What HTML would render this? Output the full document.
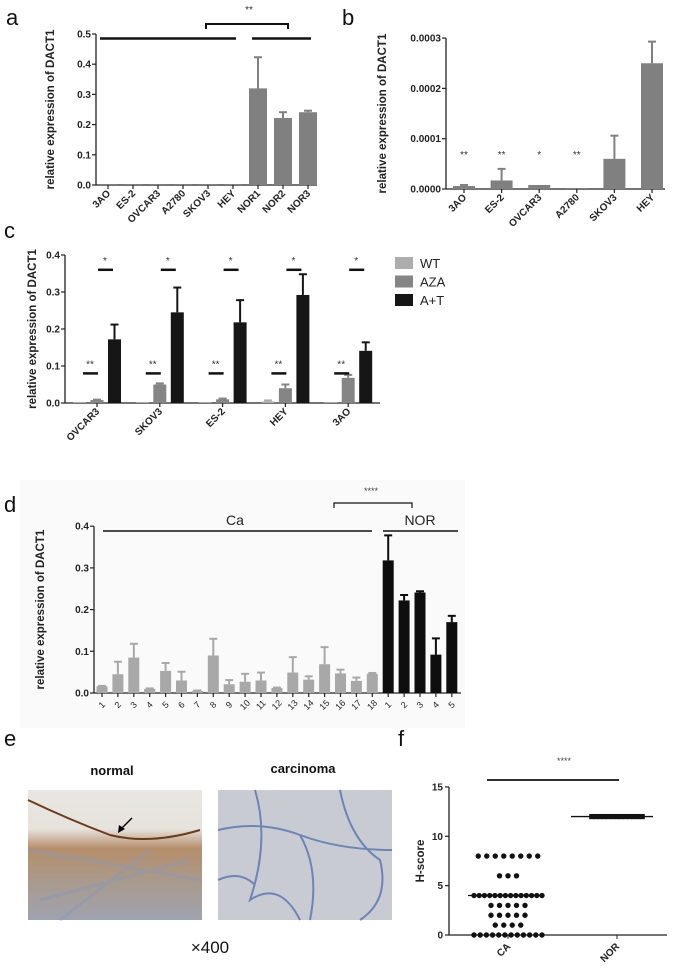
<!DOCTYPE html>
<html><head><meta charset="utf-8"><style>
html,body{margin:0;padding:0;background:#fff}
svg{display:block;font-family:"Liberation Sans",Arial,sans-serif}
</style></head><body>
<svg id="fig" width="675" height="970" viewBox="0 0 675 970">
<rect x="20" y="480" width="445" height="248" fill="#fafafa"/>
<defs>
<linearGradient id="ng" x1="0" y1="0" x2="0" y2="1">
<stop offset="0" stop-color="#e9e7e3"/><stop offset="0.3" stop-color="#e6e2dc"/><stop offset="0.45" stop-color="#b58e6a"/><stop offset="0.7" stop-color="#a99a8c"/><stop offset="1" stop-color="#9fa3b0"/>
</linearGradient>
</defs>
</svg>
<script>
const aCats=["3AO","ES-2","OVCAR3","A2780","SKOV3","HEY","NOR1","NOR2","NOR3"];
const aVals=[0,0.001,0,0,0,0,0.32,0.222,0.241];
const aErr=[0,0,0,0,0,0,0.423,0.241,0.246];
const aTicks=[0,0.1,0.2,0.3,0.4,0.5];
const bCats=["3AO","ES-2","OVCAR3","A2780","SKOV3","HEY"];
const bVals=[0.000006,0.000017,0.000008,0.000002,0.00006,0.00025];
const bErr=[0.000008,0.00004,0.000008,0.000002,0.000106,0.000293];
const bStars=["**","**","*","**","",""];
const bTicks=[0,0.0001,0.0002,0.0003];
const cCats=["OVCAR3","SKOV3","ES-2","HEY","3AO"];
const cSeries=["WT","AZA","A+T"];
const cWT=[0.001,0.002,0,0.004,0];
const cWTErr=[0.001,0.002,0,0.007,0];
const cAZA=[0.008,0.05,0.01,0.04,0.068];
const cAZAErr=[0.009,0.053,0.012,0.05,0.076];
const cAT=[0.172,0.245,0.218,0.292,0.141];
const cATErr=[0.212,0.312,0.278,0.348,0.164];
const cTicks=[0,0.1,0.2,0.3,0.4];
const dCats=["1","2","3","4","5","6","7","8","9","10","11","12","13","14","15","16","17","18","1","2","3","4","5"];
const dVals=[0.016,0.045,0.085,0.01,0.053,0.03,0.005,0.09,0.021,0.027,0.03,0.012,0.049,0.032,0.069,0.047,0.029,0.046,0.318,0.222,0.241,0.092,0.17];
const dErr=[0.017,0.075,0.118,0.011,0.072,0.051,0.006,0.13,0.031,0.046,0.049,0.013,0.086,0.04,0.11,0.056,0.037,0.048,0.378,0.235,0.244,0.131,0.185];
const dTicks=[0,0.1,0.2,0.3,0.4];
const fCA=[8,8,8,8,8,8,8,8,6,6,6,4,4,4,4,4,4,4,4,4,4,4,4,4,4,3,3,3,3,3,2,2,2,2,2,1,1,1,1,0,0,0,0,0,0,0,0,0,0,0,0];
const fNOR=[12,12,12,12,12,12,12,12,12,12,12,12,12];
const fMed=[4,12];
const fTicks=[0,5,10,15];

const svg=document.getElementById('fig');
const NS='http://www.w3.org/2000/svg';
function el(tag,attrs,parent){const e=document.createElementNS(NS,tag);for(const k in attrs)e.setAttribute(k,attrs[k]);(parent||svg).appendChild(e);return e;}
function txt(s,attrs,parent){const e=el('text',attrs,parent);e.textContent=s;return e;}
function fmt(v,d){return v.toFixed(d);}

function axes(g,x0,x1,yScale,ticks,dec,ylab,ylx){
  const y0=yScale(0),yt=yScale(ticks[ticks.length-1]);
  let e=el('line',{x1:x0,y1:y0,x2:x0,y2:yt,stroke:'#222','stroke-width':1.3},g);
  
  e=el('line',{x1:x0,y1:y0,x2:x1,y2:y0,stroke:'#222','stroke-width':1.3},g);
  
  ticks.forEach(t=>{const y=yScale(t);
    el('line',{x1:x0-4,y1:y,x2:x0,y2:y,stroke:'#222','stroke-width':1.2},g);
    e=txt(fmt(t,dec),{x:x0-5,y:y+3.5,'text-anchor':'end','font-size':10,'font-weight':'bold',fill:'#222'},g);
    });
  const ym=(y0+yt)/2;
  e=txt(ylab,{x:ylx,y:ym,transform:`rotate(-90 ${ylx} ${ym})`,'text-anchor':'middle','font-size':11.5,'font-weight':'bold',fill:'#222'},g);
  
}
function xlabels(g,cats,xf,y0,fs){
  cats.forEach((c,i)=>{const x=xf(i);
    el('line',{x1:x,y1:y0,x2:x,y2:y0+4,stroke:'#222','stroke-width':1.2},g);
    const e=txt(c,{x:x+3,y:y0+9,transform:`rotate(-45 ${x+3} ${y0+9})`,'text-anchor':'end','font-size':fs,'font-weight':'bold',fill:'#222'},g);
    });
}
function bar(g,x,w,y0,yv,ye,col,name){
  if(ye!==null&&yv-ye>0.3){
    el('line',{x1:x,y1:yv,x2:x,y2:ye,stroke:col,'stroke-width':2},g);
    el('line',{x1:x-4,y1:ye,x2:x+4,y2:ye,stroke:col,'stroke-width':2},g);}
  const e=el('rect',{x:x-w/2,y:Math.min(yv,y0-1),width:w,height:Math.max(y0-yv,1),fill:col},g);
  
}
function label(s,x,y){const e=txt(s,{x:x,y:y,'font-size':22,fill:'#111'});}

// Panel a
(function(){
  const g=el('g',{});
  label('a',6,25);
  const ys=v=>185-v*302, xs=i=>108+i*25;
  axes(g,96,317,ys,aTicks,1,'relative expression of DACT1',54);
  aCats.forEach((c,i)=>bar(g,xs(i),18,ys(0),ys(aVals[i]),ys(aErr[i]),'#808080','bar-'+c.toLowerCase()));
  xlabels(g,aCats,xs,185,10);
  el('line',{x1:100,y1:ys(0.485),x2:236,y2:ys(0.485),stroke:'#111','stroke-width':2.5},g);
  el('line',{x1:252,y1:ys(0.485),x2:311,y2:ys(0.485),stroke:'#111','stroke-width':2.5},g);
  el('polyline',{points:'206,29 206,24 288,24 288,29',fill:'none',stroke:'#111','stroke-width':2},g);
  txt('**',{x:249,y:13,'text-anchor':'middle','font-size':10,fill:'#333'},g);
})();
// Panel b
(function(){
  const g=el('g',{});
  label('b',342,25);
  const ys=v=>189-v*503000, xs=i=>464+i*37.6;
  axes(g,446,665,ys,bTicks,4,'relative expression of DACT1',386);
  bCats.forEach((c,i)=>{bar(g,xs(i),22,ys(0),ys(bVals[i]),ys(bErr[i]),'#808080','bar-'+c.toLowerCase());
    if(bStars[i])txt(bStars[i],{x:xs(i),y:158,'text-anchor':'middle','font-size':10,fill:'#333'},g);});
  xlabels(g,bCats,xs,189,10);
})();
// Panel c
(function(){
  const g=el('g',{});
  label('c',4,238);
  const ys=v=>403-v*370, xs=i=>97+i*62.8;
  axes(g,65,380,ys,cTicks,1,'relative expression of DACT1',36);
  const cols=['#adadad','#858585','#161616'];
  const sers=[[cWT,cWTErr],[cAZA,cAZAErr],[cAT,cATErr]];
  cCats.forEach((c,i)=>{
    sers.forEach((s,j)=>bar(g,xs(i)+(j-1)*17.5,13,ys(0),ys(s[0][i]),ys(s[1][i]),cols[j],'bar-'+c.toLowerCase()+'-'+cSeries[j].toLowerCase()));
    el('line',{x1:xs(i)-14,y1:ys(0.08),x2:xs(i)+1,y2:ys(0.08),stroke:'#111','stroke-width':2.5},g);
    txt('**',{x:xs(i)-7,y:ys(0.08)-6,'text-anchor':'middle','font-size':10,fill:'#333'},g);
    el('line',{x1:xs(i)+1,y1:ys(0.36),x2:xs(i)+16,y2:ys(0.36),stroke:'#111','stroke-width':2.5},g);
    txt('*',{x:xs(i)+8,y:ys(0.36)-6,'text-anchor':'middle','font-size':10,fill:'#333'},g);
  });
  xlabels(g,cCats,xs,403,10);
  cSeries.forEach((s,j)=>{const y=263+j*18.5;
    const r=el('rect',{x:395,y:y-6,width:18,height:12,fill:cols[j]},g);
    
    const t=txt(s,{x:420,y:y+5,'font-size':13,fill:'#222'},g);
    });
})();
// Panel d
(function(){
  const g=el('g',{});
  label('d',4,512);
  const ys=v=>693-v*417, xs=i=>102+i*15.9;
  axes(g,94,461,ys,dTicks,1,'relative expression of DACT1',44);
  dCats.forEach((c,i)=>bar(g,xs(i),11,ys(0),ys(dVals[i]),ys(dErr[i]),i<18?'#a8a8a8':'#0e0e0e','bar-'+(i<18?'ca-':'nor-')+c));
  dCats.forEach((c,i)=>{const x=xs(i);el('line',{x1:x,y1:693,x2:x,y2:697,stroke:'#222','stroke-width':1.2},g);
    const e=txt(c,{x:x+2,y:707,transform:`rotate(-45 ${x+2} 707)`,'text-anchor':'middle','font-size':9,fill:'#222'},g);
    });
  el('line',{x1:103,y1:531,x2:372,y2:531,stroke:'#111','stroke-width':1.5},g);
  el('line',{x1:383,y1:531,x2:458,y2:531,stroke:'#111','stroke-width':1.5},g);
  txt('Ca',{x:235,y:525,'text-anchor':'middle','font-size':14,fill:'#222'},g);
  txt('NOR',{x:420,y:525,'text-anchor':'middle','font-size':14,fill:'#222'},g);
  el('polyline',{points:'334,508 334,503 412,503 412,508',fill:'none',stroke:'#111','stroke-width':1.2},g);
  txt('****',{x:371,y:494,'text-anchor':'middle','font-size':9,fill:'#444'},g);
})();
// Panel e
(function(){
  const g=el('g',{});
  label('e',4,746);
  txt('normal',{x:112,y:775,'text-anchor':'middle','font-size':13,'font-weight':'bold',fill:'#111'},g);
  txt('carcinoma',{x:303,y:773,'text-anchor':'middle','font-size':13,'font-weight':'bold',fill:'#111'},g);
  let r=el('rect',{x:28,y:790,width:174,height:130,fill:'url(#ng)'},g);
  
  el('path',{d:'M28,800 Q70,820 110,835 Q150,845 200,830',fill:'none',stroke:'#6b3b1c','stroke-width':2},g);
  el('path',{d:'M28,850 L202,880 M40,900 L190,860 M60,920 L150,850',fill:'none',stroke:'#8a97b5','stroke-width':3,opacity:0.5},g);
  el('line',{x1:132,y1:818,x2:120,y2:830,stroke:'#000','stroke-width':1.5},g);
  el('polygon',{points:'118,833 119,825 125,829',fill:'#000'},g);
  r=el('rect',{x:218,y:790,width:174,height:130,fill:'#c8ccd2'},g);
  
  el('path',{d:'M218,830 Q260,820 300,835 T392,850 M255,790 Q270,840 250,900 Q280,880 300,920 M300,835 Q320,870 310,920 M340,790 Q350,840 380,860 Q390,900 360,920 M218,880 Q240,870 255,885',fill:'none',stroke:'#5870b0','stroke-width':2,opacity:0.8},g);
  txt('×400',{x:210,y:953,'text-anchor':'middle','font-size':17,fill:'#111'},g);
})();
// Panel f
(function(){
  const g=el('g',{});
  label('f',398,746);
  const ys=v=>935-v*9.87, cx=[508,617];
  const y0=ys(0),yt=ys(15);
  el('line',{x1:449,y1:y0,x2:449,y2:yt,stroke:'#222','stroke-width':1.3},g);
  el('line',{x1:449,y1:y0,x2:667,y2:y0,stroke:'#222','stroke-width':1.3},g);
  fTicks.forEach(t=>{const y=ys(t);el('line',{x1:445,y1:y,x2:449,y2:y,stroke:'#222','stroke-width':1.2},g);
    txt(String(t),{x:443,y:y+3.5,'text-anchor':'end','font-size':10,'font-weight':'bold',fill:'#222'},g);});
  txt('H-score',{x:424,y:(y0+yt)/2,transform:`rotate(-90 424 ${(y0+yt)/2})`,'text-anchor':'middle','font-size':11.5,'font-weight':'bold',fill:'#222'},g);
  ['CA','NOR'].forEach((c,i)=>{el('line',{x1:cx[i],y1:y0,x2:cx[i],y2:y0+4,stroke:'#222'},g);
    txt(c,{x:cx[i]+3,y:y0+12,transform:`rotate(-45 ${cx[i]+3} ${y0+12})`,'text-anchor':'end','font-size':10,'font-weight':'bold',fill:'#222'},g);});
  function swarm(vals,x,sq,name){
    const counts={};vals.forEach(v=>counts[v]=(counts[v]||0)+1);
    const idx={};
    vals.forEach(v=>{idx[v]=(idx[v]||0);const n=counts[v];const k=idx[v]++;
      const sp=sq?4.2:Math.min(8.5,68/Math.max(n-1,1));
      const px=x+(k-(n-1)/2)*sp, py=ys(v);
      const e=sq?el('rect',{x:px-2.6,y:py-2.6,width:5.2,height:5.2,fill:'#111'},g):el('circle',{cx:px,cy:py,r:2.7,fill:'#111'},g);
      });
  }
  el('line',{x1:468,y1:ys(fMed[0]),x2:543,y2:ys(fMed[0]),stroke:'#111','stroke-width':1.3},g);
  el('line',{x1:571,y1:ys(fMed[1]),x2:653,y2:ys(fMed[1]),stroke:'#111','stroke-width':1.3},g);
  swarm(fCA,cx[0],false,'point-ca');
  swarm(fNOR,cx[1],true,'point-nor');
  el('line',{x1:487,y1:780,x2:619,y2:780,stroke:'#111','stroke-width':1.8},g);
  txt('****',{x:564,y:764,'text-anchor':'middle','font-size':9,fill:'#444'},g);
})();
</script>
</body></html>
